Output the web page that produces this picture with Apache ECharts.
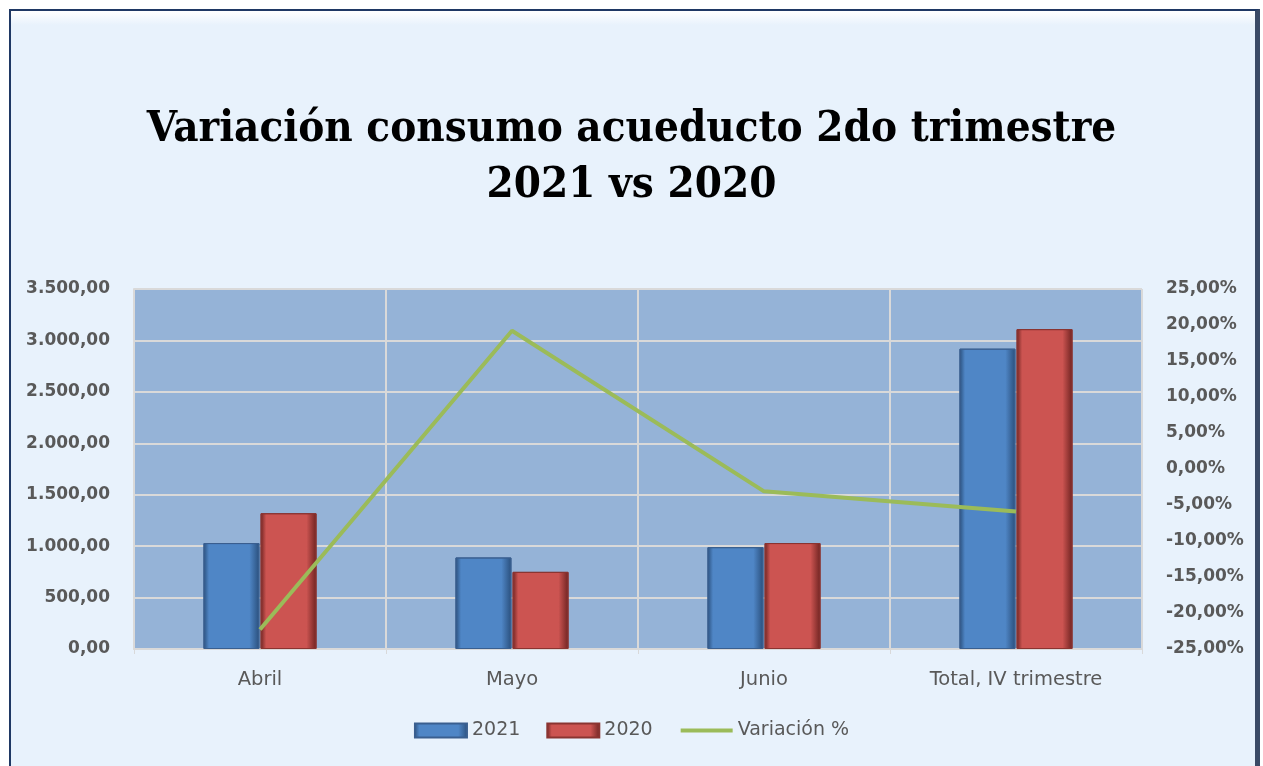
<!DOCTYPE html>
<html>
<head>
<meta charset="utf-8">
<script src="https://cdn.jsdelivr.net/npm/echarts@6/dist/echarts.min.js"></script>
<style>
  html, body { margin: 0; padding: 0; background: #ffffff; }
  #frame {
    position: absolute; left: 9px; top: 9px; width: 1244px; height: 770px;
    border: 2px solid #1F3864; border-right: 5px solid #3A4A66;
    background: linear-gradient(#ffffff 0px, #E8F2FC 14px, #E8F2FC 100%);
  }
  #chart { position: absolute; left: 0; top: 0; width: 1263px; height: 766px; }
</style>
</head>
<body>
<div id="frame"></div>
<div id="chart"></div>
<script>
const categories = ['Abril', 'Mayo', 'Junio', 'Total, IV trimestre']
const values2021 = [1030, 890, 990, 2920]
const values2020 = [1320, 750, 1030, 3110]
const variacion = [-22.3, 19.2, -3.1, -5.9]

const chart = echarts.init(document.getElementById('chart'))

const fmtNum = (v) => {
  const s = Math.round(v).toString().replace(/\B(?=(\d{3})+(?!\d))/g, '.')
  return s + ',00'
}
const fmtPct = (v) => v.toFixed(2).replace('.', ',') + '%'

const barGradient = (main, dark) => ({
  type: 'linear', x: 0, y: 0, x2: 1, y2: 0,
  colorStops: [
    { offset: 0, color: dark },
    { offset: 0.1, color: main },
    { offset: 0.82, color: main },
    { offset: 1, color: dark }
  ]
})

const labelFont = '"DejaVu Sans", sans-serif'

const option = {
  backgroundColor: 'transparent',
  title: {
    text: 'Variación consumo acueducto 2do trimestre\n2021 vs 2020',
    left: 'center',
    top: 97,
    textStyle: {
      fontFamily: '"DejaVu Serif Condensed", "DejaVu Serif", serif',
      fontWeight: 'bold',
      fontSize: 43.5,
      lineHeight: 56,
      color: '#000000'
    }
  },
  legend: {
    bottom: 21,
    left: 'center',
    itemWidth: 52,
    itemHeight: 14,
    itemGap: 26,
    textStyle: { fontFamily: labelFont, fontSize: 19, color: '#595959' },
    data: [
      { name: '2021', icon: 'rect' },
      { name: '2020', icon: 'rect' },
      {
        name: 'Variación %',
        itemStyle: { opacity: 0 },
        lineStyle: { width: 4, color: '#9BBB59' }
      }
    ]
  },
  grid: {
    left: 134, right: 121, top: 289, bottom: 117,
    show: true, backgroundColor: '#95B3D7', borderWidth: 0
  },
  xAxis: {
    type: 'category',
    data: categories,
    axisLine: { lineStyle: { color: '#D9D9D9', width: 2 } },
    axisTick: { show: true, length: 5, lineStyle: { color: '#D9D9D9' } },
    axisLabel: { fontFamily: labelFont, fontSize: 19.5, color: '#595959', margin: 21 },
    splitLine: { show: true, lineStyle: { color: '#D9D9D9', width: 2 } }
  },
  yAxis: [
    {
      type: 'value',
      min: 0, max: 3500, interval: 500,
      axisLine: { show: true, lineStyle: { color: '#D9D9D9', width: 2 } },
      axisLabel: {
        fontFamily: labelFont, fontSize: 17, fontWeight: 'bold', color: '#595959',
        margin: 24, formatter: fmtNum
      },
      splitLine: { lineStyle: { color: '#D9D9D9', width: 2 } }
    },
    {
      type: 'value',
      min: -25, max: 25, interval: 5,
      position: 'right',
      axisLine: { show: false },
      axisLabel: {
        fontFamily: labelFont, fontSize: 17, fontWeight: 'bold', color: '#595959',
        margin: 24, formatter: fmtPct
      },
      splitLine: { show: false }
    }
  ],
  series: [
    {
      name: '2021',
      type: 'bar',
      barWidth: 56,
      barGap: '2%',
      data: values2021,
      itemStyle: {
        color: barGradient('#4F86C6', '#2A4F7C'),
        borderColor: '#3A5F8F',
        borderWidth: 1
      }
    },
    {
      name: '2020',
      type: 'bar',
      barWidth: 56,
      data: values2020,
      itemStyle: {
        color: barGradient('#CC5451', '#6E2321'),
        borderColor: '#8A3431',
        borderWidth: 1
      }
    },
    {
      name: 'Variación %',
      type: 'line',
      yAxisIndex: 1,
      data: variacion,
      symbol: 'none',
      lineStyle: { color: '#9BBB59', width: 4 },
      itemStyle: { color: '#9BBB59' },
      z: 5
    }
  ]
}

chart.setOption(option)
window.addEventListener('resize', () => chart.resize())
</script>
</body>
</html>
